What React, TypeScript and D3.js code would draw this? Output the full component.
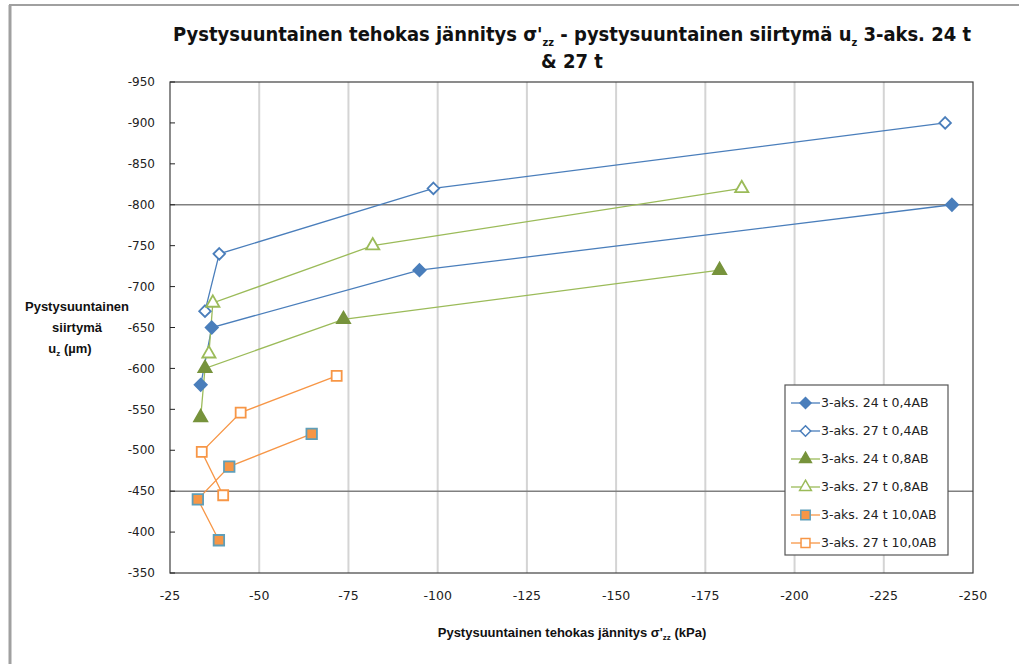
import React from "react";
import * as d3 from "d3";

// series names (legend order)
const seriesNames = [
  "3-aks. 24 t 0,4AB",
  "3-aks. 27 t 0,4AB",
  "3-aks. 24 t 0,8AB",
  "3-aks. 27 t 0,8AB",
  "3-aks. 24 t 10,0AB",
  "3-aks. 27 t 10,0AB",
];

// stress sigma'zz (kPa) and displacement uz (µm), read off the picture
const x24t04 = [-33.6, -36.7, -94.9, -244.1];
const y24t04 = [-580, -650, -720, -800];
const x27t04 = [-34.8, -38.8, -98.8, -242.2];
const y27t04 = [-670, -740, -820, -900];
const x24t08 = [-33.6, -34.8, -73.6, -179];
const y24t08 = [-540, -600, -660, -720];
const x27t08 = [-35.9, -37.0, -81.8, -185.2];
const y27t08 = [-618, -680, -750, -820];
const x24t100 = [-38.7, -32.8, -41.6, -64.7];
const y24t100 = [-390, -440, -480, -520];
const x27t100 = [-39.9, -33.9, -44.8, -71.7];
const y27t100 = [-445, -498, -546, -591];

const xTicks = [-25, -50, -75, -100, -125, -150, -175, -200, -225, -250];
const yTicks = [-950, -900, -850, -800, -750, -700, -650, -600, -550, -500, -450, -400, -350];
const yGrid = [-800, -450];

const xs = [x24t04, x27t04, x24t08, x27t08, x24t100, x27t100];
const ys = [y24t04, y27t04, y24t08, y27t08, y24t100, y27t100];

const BLUE = "#4a7ebb";
const GREEN = "#9bbb59";
const GREEN_DARK = "#77933c";
const ORANGE = "#f79646";

const styles = [
  { line: BLUE, fill: BLUE, stroke: BLUE, symbol: d3.symbolDiamond2, size: 95 },
  { line: BLUE, fill: "#fff", stroke: BLUE, symbol: d3.symbolDiamond2, size: 85 },
  { line: GREEN, fill: GREEN_DARK, stroke: GREEN_DARK, symbol: d3.symbolTriangle, size: 75 },
  { line: GREEN, fill: "#fff", stroke: GREEN, symbol: d3.symbolTriangle, size: 75 },
  { line: ORANGE, fill: ORANGE, stroke: "#5f9eb8", symbol: d3.symbolSquare, size: 110 },
  { line: ORANGE, fill: "#fff", stroke: ORANGE, symbol: d3.symbolSquare, size: 100 },
];

const W = 1019;
const H = 664;
const plot = { left: 170, right: 973, top: 82, bottom: 573 };

const titleFont = "'Liberation Sans Narrow', 'DejaVu Sans Condensed', sans-serif";
const labelFont = "'Liberation Sans', Arial, sans-serif";
const tickFont = "'DejaVu Sans', Verdana, sans-serif";

export default function App() {
  const x = d3.scaleLinear().domain([-25, -250]).range([plot.left, plot.right]);
  const y = d3.scaleLinear().domain([-350, -950]).range([plot.bottom, plot.top]);

  const legend = { x: 785, y: 385, w: 163, h: 170 };

  return (
    <svg
      width={W}
      height={H}
      style={{ position: "absolute", left: 0, top: 0, background: "#fff" }}
    >
      {/* outer frame */}
      <line x1={9} x2={W} y1={5} y2={5} stroke="#a0a0a0" strokeWidth={2} />
      <line x1={10} x2={10} y1={5} y2={H} stroke="#a0a0a0" strokeWidth={3} />

      {/* title */}
      <text
        x={572}
        y={41}
        textAnchor="middle"
        fontFamily={titleFont}
        fontWeight="bold"
        fontSize={20}
        fill="#111"
        textLength={798}
        lengthAdjust="spacingAndGlyphs"
      >
        Pystysuuntainen tehokas jännitys σ'
        <tspan fontSize={11} dy={5}>zz</tspan>
        <tspan dy={-5}> - pystysuuntainen siirtymä u</tspan>
        <tspan fontSize={11} dy={5}>z</tspan>
        <tspan dy={-5}> 3-aks. 24 t</tspan>
      </text>
      <text
        x={572}
        y={68}
        textAnchor="middle"
        fontFamily={titleFont}
        fontWeight="bold"
        fontSize={20}
        fill="#111"
      >
        & 27 t
      </text>

      {/* vertical gridlines */}
      {xTicks.slice(1, -1).map((t) => (
        <line
          key={"vg" + t}
          x1={x(t)}
          x2={x(t)}
          y1={plot.top}
          y2={plot.bottom}
          stroke="#d4d4d4"
          strokeWidth={2}
        />
      ))}
      {/* horizontal gridlines */}
      {yGrid.map((t) => (
        <line
          key={"hg" + t}
          x1={plot.left}
          x2={plot.right}
          y1={y(t)}
          y2={y(t)}
          stroke="#808080"
          strokeWidth={1.5}
        />
      ))}

      {/* plot border */}
      <rect
        x={plot.left}
        y={plot.top}
        width={plot.right - plot.left}
        height={plot.bottom - plot.top}
        fill="none"
        stroke="#404040"
        strokeWidth={1.2}
      />

      {/* y ticks (inside) and labels */}
      {yTicks.map((t) => (
        <g key={"yt" + t}>
          <line x1={plot.left} x2={plot.left + 5} y1={y(t)} y2={y(t)} stroke="#222" />
          <text
            x={155}
            y={y(t)}
            dy="0.35em"
            textAnchor="end"
            fontFamily={tickFont}
            fontSize={12}
            fill="#222"
          >
            {t}
          </text>
        </g>
      ))}
      {/* x labels */}
      {xTicks.map((t) => (
        <text
          key={"xt" + t}
          x={x(t)}
          y={596}
          dy="0.35em"
          textAnchor="middle"
          fontFamily={tickFont}
          fontSize={12.5}
          fill="#222"
        >
          {t}
        </text>
      ))}

      {/* axis titles */}
      <text
        x={77}
        textAnchor="middle"
        fontFamily={labelFont}
        fontWeight="bold"
        fontSize={13}
        fill="#111"
      >
        <tspan x={77} y={311}>Pystysuuntainen</tspan>
        <tspan x={77} y={332}>siirtymä</tspan>
        <tspan x={70} y={353}>u</tspan>
        <tspan fontSize={8} dy={3}>z</tspan>
        <tspan dy={-3}> (µm)</tspan>
      </text>
      <text
        x={572}
        y={637}
        textAnchor="middle"
        fontFamily={labelFont}
        fontWeight="bold"
        fontSize={13}
        fill="#111"
      >
        Pystysuuntainen tehokas jännitys σ'
        <tspan fontSize={8} dy={3}>zz</tspan>
        <tspan dy={-3}> (kPa)</tspan>
      </text>

      {/* series lines */}
      {seriesNames.map((name, i) => {
        const pts = xs[i].map((v, k) => [x(v), y(ys[i][k])] as [number, number]);
        return (
          <path
            key={"l" + name}
            d={d3.line()(pts) ?? ""}
            fill="none"
            stroke={styles[i].line}
            strokeWidth={1.3}
          />
        );
      })}
      {/* markers */}
      {seriesNames.map((name, i) => {
        const s = styles[i];
        const path = d3.symbol().type(s.symbol).size(s.size)() ?? "";
        return (
          <g key={"m" + name}>
            {xs[i].map((v, k) => (
              <path
                key={k}
                d={path}
                transform={`translate(${x(v)},${y(ys[i][k])})`}
                fill={s.fill}
                stroke={s.stroke}
                strokeWidth={1.8}
              />
            ))}
          </g>
        );
      })}

      {/* legend */}
      <rect
        x={legend.x}
        y={legend.y}
        width={legend.w}
        height={legend.h}
        fill="#fff"
        stroke="#555"
        strokeWidth={1.2}
      />
      {seriesNames.map((name, i) => {
        const s = styles[i];
        const ly = legend.y + 18 + i * 28;
        const path = d3.symbol().type(s.symbol).size(s.size * 0.8)() ?? "";
        return (
          <g key={"lg" + name}>
            <line x1={791} x2={820} y1={ly} y2={ly} stroke={s.line} strokeWidth={1.3} />
            <path
              d={path}
              transform={`translate(805.5,${ly})`}
              fill={s.fill}
              stroke={s.stroke}
              strokeWidth={1.5}
            />
            <text
              x={821}
              y={ly}
              dy="0.35em"
              fontFamily={tickFont}
              fontSize={12.5}
              fill="#222"
            >
              {name}
            </text>
          </g>
        );
      })}
    </svg>
  );
}
